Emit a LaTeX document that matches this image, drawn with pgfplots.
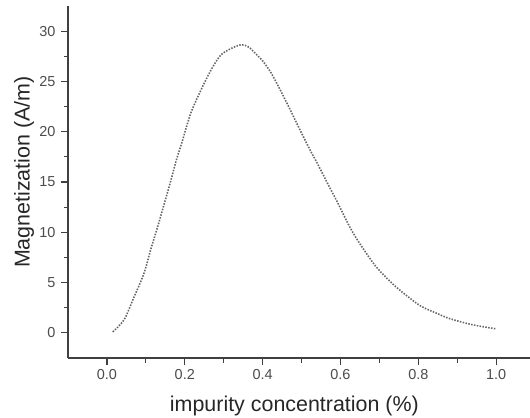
\documentclass[border=0pt]{standalone}
\usepackage{pgfplots}
\pgfplotsset{compat=1.18}
\usepackage{fontspec}
\setmainfont{Liberation Sans}
\begin{document}
\begin{tikzpicture}
\begin{axis}[
  name=ax,
  scale only axis,
  width=462bp, height=352bp,
  xmin=-0.1, xmax=1.087,
  ymin=-2.5, ymax=32.5,
  axis x line*=bottom,
  axis y line*=left,
  axis line style={black!75, line width=1.4pt},
  xtick={0,0.2,0.4,0.6,0.8,1.0},
  ytick={0,5,10,15,20,25,30},
  minor x tick num=1,
  minor y tick num=1,
  tick align=outside,
  major tick length=7bp,
  minor tick length=4.5bp,
  tick style={black!75, line width=1.2pt},
  /pgf/number format/assume math mode=true,
  xticklabel style={yshift=-1bp, /pgf/number format/fixed, /pgf/number format/fixed zerofill, /pgf/number format/precision=1},
  ticklabel style={font=\fontsize{14.5}{16}\selectfont, text=black!70},
  yticklabel style={xshift=-2bp},
  xlabel={impurity concentration (\%)},
  ylabel={Magnetization (A/m)},
  label style={font=\fontsize{21.5}{24}\selectfont, text=black!85},
  xlabel style={at={(axis description cs:0.49,-0.1534)}, anchor=base},
  ylabel style={at={(axis description cs:-0.0952,0.528)}, anchor=center},
  clip=false,
]
\addplot[black!60, line width=1.6pt, dash pattern={on 1.5pt off 1.4pt}, smooth, tension=0.5] coordinates {
(0.015,0.1) (0.044,1.3) (0.069,3.5) (0.095,5.9) (0.113,8.35) (0.130,10.5)
(0.147,12.8) (0.164,15.1) (0.177,17.0) (0.194,19.1) (0.215,21.8) (0.241,24.1)
(0.267,26.1) (0.292,27.6) (0.318,28.25) (0.345,28.65) (0.365,28.4) (0.386,27.6)
(0.399,27.1) (0.421,25.9) (0.446,24.1) (0.472,22.1) (0.497,20.1) (0.523,18.1)
(0.54,16.9) (0.565,15.0) (0.592,13.0) (0.633,9.9) (0.685,6.9) (0.72,5.4)
(0.754,4.2) (0.805,2.7) (0.85,1.9) (0.882,1.4) (0.94,0.8) (1.0,0.4)
};
\end{axis}
\pgfresetboundingbox
\path (ax.south west) ++(-68bp,-60bp) coordinate (bl);
\path (ax.north east) ++(0bp,6bp) coordinate (tr);
\path[use as bounding box] (bl) rectangle (tr);
\end{tikzpicture}
\end{document}
